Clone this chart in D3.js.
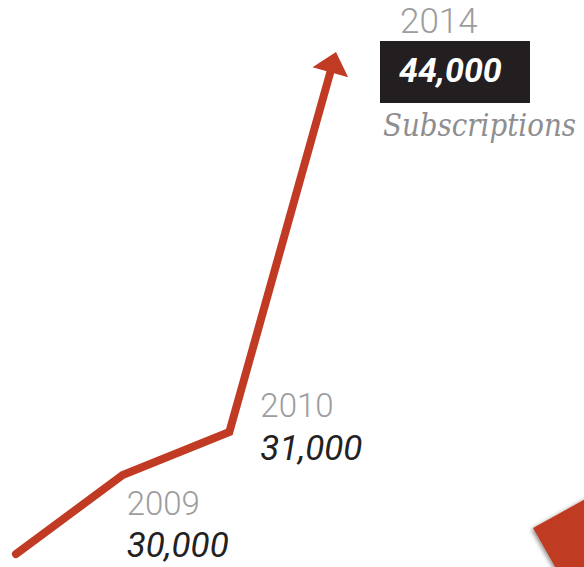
<!DOCTYPE html>
<html>
<head>
<meta charset="utf-8">
<script src="https://cdn.jsdelivr.net/npm/d3@7"></script>
<style>
  html, body { margin: 0; padding: 0; background: #ffffff; }
  svg { display: block; }
</style>
</head>
<body>
<svg id="chart" width="584" height="567"></svg>
<script>
// Subscription growth, drawn as a rising arrow
const years = ["2008", "2009", "2010", "2014"];
const subscriptions = [29000, 30000, 31000, 44000];
const labelYears = ["2009", "2010", "2014"];
const valueLabels = ["30,000", "31,000", "44,000"];
const unitLabel = "Subscriptions";

const W = 584, H = 567;
const red = "#c13b24";
const svg = d3.select("#chart");

// x: evenly spaced milestones
const x = d3.scalePoint().domain(years).range([16, 336]);
// y: piecewise scale that exaggerates the later jump
const y = d3.scaleLinear()
  .domain([29000, 30000, 31000, 44000])
  .range([554, 475, 432, 52]);

const pts = years.map((yr, i) => [x(yr), y(subscriptions[i])]);

// decorative tile in the lower-right corner
const defs = svg.append("defs");
const f = defs.append("filter").attr("id", "shadow")
  .attr("x", "-20%").attr("y", "-20%").attr("width", "150%").attr("height", "150%");
f.append("feDropShadow").attr("dx", -1.5).attr("dy", 1.5)
  .attr("stdDeviation", 2).attr("flood-color", "#000").attr("flood-opacity", 0.45);

svg.append("polygon")
  .attr("points", [[533, 528], [600, 491], [640, 600], [574, 600]].map(p => p.join(",")).join(" "))
  .attr("fill", "#bf3a24")
  .attr("filter", "url(#shadow)");

// arrow head geometry from the last segment
const tip = pts[pts.length - 1];
const prev = pts[pts.length - 2];
const dx = tip[0] - prev[0], dy = tip[1] - prev[1];
const len = Math.hypot(dx, dy);
const ux = dx / len, uy = dy / len;
const headLen = 21, headHalf = 18.5;
const base = [tip[0] - ux * headLen, tip[1] - uy * headLen];
const px = -uy, py = ux;

const linePts = pts.slice(0, -1).concat([[base[0] + ux * 1, base[1] + uy * 1]]);
svg.append("path")
  .attr("d", d3.line()(linePts))
  .attr("fill", "none")
  .attr("stroke", red)
  .attr("stroke-width", 8)
  .attr("stroke-linejoin", "miter")
  .attr("stroke-linecap", "round");

svg.append("path")
  .attr("d", d3.line()([
    tip,
    [base[0] + px * headHalf, base[1] + py * headHalf],
    [base[0] - px * headHalf, base[1] - py * headHalf]
  ]) + "Z")
  .attr("fill", red);

// labels for 2009 and 2010, offset from their points
const yearFont = "Roboto, 'Noto Sans', sans-serif";
const labelOffsets = [
  { dx: 4, yearDy: 40, valueDy: 82 },
  { dx: 31, yearDy: -15, valueDy: 28 }
];
[0, 1].forEach(i => {
  const p = pts[i + 1];
  const o = labelOffsets[i];
  const g = svg.append("g").attr("transform", `translate(${p[0] + o.dx},${p[1]})`);
  g.append("text")
    .attr("x", 0).attr("y", o.yearDy)
    .attr("font-family", yearFont).attr("font-weight", 300)
    .attr("font-size", 33).attr("fill", "#9d9d9f")
    .text(labelYears[i]);
  g.append("text")
    .attr("x", 0).attr("y", o.valueDy)
    .attr("font-family", yearFont).attr("font-weight", 400)
    .attr("font-style", "italic")
    .attr("font-size", 35).attr("fill", "#222222")
    .text(valueLabels[i]);
});

// headline label for 2014
const hx = tip[0] + 44;
svg.append("text")
  .attr("x", hx + 20).attr("y", 33)
  .attr("font-family", yearFont).attr("font-weight", 300)
  .attr("font-size", 35).attr("fill", "#9d9d9f")
  .text(labelYears[2]);

svg.append("rect")
  .attr("x", hx).attr("y", 41).attr("width", 150).attr("height", 62)
  .attr("fill", "#231f20");

svg.append("text")
  .attr("x", hx + 19).attr("y", 82)
  .attr("font-family", yearFont).attr("font-weight", 700)
  .attr("font-style", "italic")
  .attr("font-size", 34).attr("fill", "#ffffff")
  .text(valueLabels[2]);

// unit caption, slightly stretched vertically
svg.append("g")
  .attr("transform", `translate(${hx + 3},136) scale(1,1.1)`)
  .append("text")
  .attr("x", 0).attr("y", 0)
  .attr("font-family", "'DejaVu Serif', serif")
  .attr("font-style", "italic")
  .attr("font-size", 28).attr("fill", "#8e8e90")
  .attr("textLength", 193).attr("lengthAdjust", "spacingAndGlyphs")
  .text(unitLabel);
</script>
</body>
</html>
